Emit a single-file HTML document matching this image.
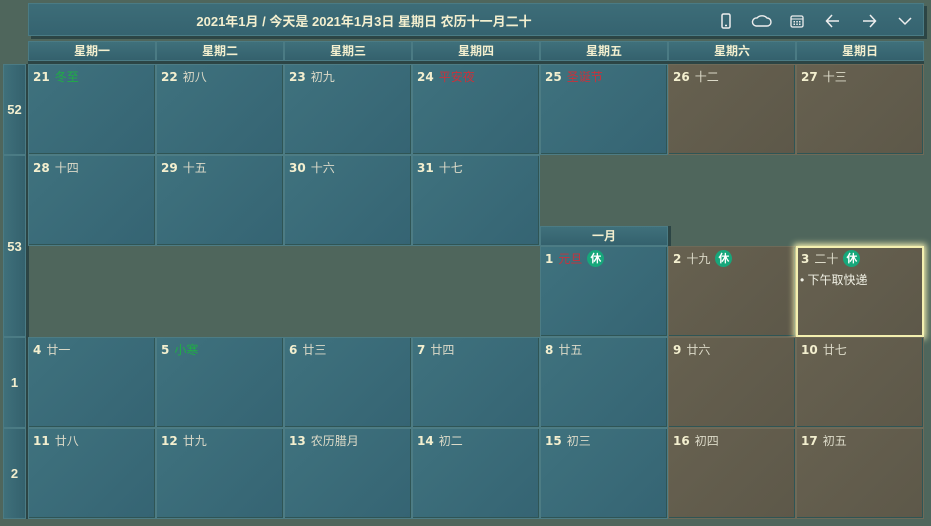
<!DOCTYPE html>
<html><head><meta charset="utf-8">
<style>
html,body{margin:0;padding:0;}
body{width:931px;height:526px;background:#4f665c;position:relative;overflow:hidden;font-family:"Liberation Sans","Noto Sans CJK SC",sans-serif;}
.abs{position:absolute;box-sizing:border-box;}
.hdr{left:28px;top:3px;width:896px;height:33px;background:linear-gradient(#3d6d78,#356370);border:1px solid #4a7b84;box-shadow:3px 3px 0 #2c4545;}
.title{position:absolute;left:0;width:670px;top:7px;text-align:center;color:#f3efcf;font-weight:bold;font-size:13px;}
.ico{position:absolute;top:8px;width:18px;height:18px;}
.dh{height:20px;top:41px;background:linear-gradient(#3f707b,#34616d);border:1px solid #4b7b84;color:#f3efcf;font-size:12px;font-weight:bold;text-align:center;line-height:18px;box-shadow:0 3px 0 #2c4545;}
.cell{background:linear-gradient(135deg,#3f727e,#356473);border:1px solid #4d7c84;box-shadow:inset -1px -1px 0 #2f5555;}
.we{background:linear-gradient(135deg,#676150,#5d5849);border-color:#6e6a58;}
.num{position:absolute;left:4px;top:3px;color:#f3efcf;font-weight:bold;font-size:12px;font-family:"DejaVu Sans","Noto Sans CJK SC",sans-serif;}
.lun{color:#dcdac8;font-weight:normal;font-size:12px;margin-left:5px;font-family:"Liberation Sans","Noto Sans CJK SC",sans-serif;}
.red{color:#c8323c;}.grn{color:#1fae45;}
.xiu{display:inline-block;width:17px;height:17px;border-radius:50%;background:#17a77b;color:#fff;font-size:11px;text-align:center;line-height:17px;margin-left:5px;vertical-align:1px;}
.wk{left:3px;width:23px;background:linear-gradient(90deg,#3f707b,#34616d);border:1px solid #4b7b84;color:#f3efcf;font-weight:bold;font-size:13px;display:flex;align-items:center;justify-content:center;box-shadow:3px 0 0 #2c4545;}
</style></head><body>
<div class="abs hdr">
  <div class="title">2021年1月 / 今天是 2021年1月3日 星期日 农历十一月二十</div>
  <svg class="ico" style="left:688px" viewBox="0 0 18 18"><rect x="5" y="2" width="8" height="14" rx="1.5" fill="none" stroke="#eee" stroke-width="1.5"/><line x1="8" y1="13.5" x2="10" y2="13.5" stroke="#eee" stroke-width="1.5"/></svg>
  <svg class="ico" style="left:722px;width:22px" viewBox="0 0 22 18"><path d="M5 14 H16 A4 4 0 0 0 16 6 A6 5 0 0 0 6 6 A4 4 0 0 0 5 14Z" fill="none" stroke="#eee" stroke-width="1.4"/></svg>
  <svg class="ico" style="left:759px" viewBox="0 0 18 18"><rect x="3" y="4" width="12" height="11" rx="1.5" fill="none" stroke="#eee" stroke-width="1.3"/><line x1="3" y1="7" x2="15" y2="7" stroke="#eee"/><g fill="#eee"><rect x="5.5" y="9" width="1.5" height="1.5"/><rect x="8.3" y="9" width="1.5" height="1.5"/><rect x="11" y="9" width="1.5" height="1.5"/><rect x="5.5" y="11.5" width="1.5" height="1.5"/><rect x="8.3" y="11.5" width="1.5" height="1.5"/><rect x="11" y="11.5" width="1.5" height="1.5"/></g></svg>
  <svg class="ico" style="left:795px" viewBox="0 0 18 18"><path d="M15 9H3M8 3L2.5 9L8 15" fill="none" stroke="#eee" stroke-width="1.5"/></svg>
  <svg class="ico" style="left:831px" viewBox="0 0 18 18"><path d="M3 9H15M10 3L15.5 9L10 15" fill="none" stroke="#eee" stroke-width="1.5"/></svg>
  <svg class="ico" style="left:867px" viewBox="0 0 18 18"><path d="M3 6L9 12L15 6" fill="none" stroke="#eee" stroke-width="1.5"/></svg>
</div>
<div class="abs" style="left:540px;top:226px;width:128px;height:20px;background:linear-gradient(#3f707b,#34616d);border:1px solid #4b7b84;color:#f3efcf;font-size:12px;font-weight:bold;text-align:center;line-height:18px;box-shadow:3px 0 0 #2c4545">一月</div>
<script>
const weekdays=['星期一','星期二','星期三','星期四','星期五','星期六','星期日'];
const colX=[28,156,284,412,540,668,796];
for(let i=0;i<7;i++){
  const d=document.createElement('div');
  d.className='abs dh';
  d.style.left=colX[i]+'px';d.style.width='128px';
  d.textContent=weekdays[i];
  
  
  document.body.appendChild(d);
}
const weeks=[['52',64,91],['53',155,182],['1',337,91],['2',428,91]];
weeks.forEach(w=>{
  const d=document.createElement('div');
  d.className='abs wk';
  d.style.top=w[1]+'px';d.style.height=w[2]+'px';
  d.textContent=w[0];
  
  
  document.body.appendChild(d);
});
const cells=[
[0,64,'21','冬至','grn',0],[1,64,'22','初八','',0],[2,64,'23','初九','',0],[3,64,'24','平安夜','red',0],[4,64,'25','圣诞节','red',0],[5,64,'26','十二','',0],[6,64,'27','十三','',0],
[0,155,'28','十四','',0],[1,155,'29','十五','',0],[2,155,'30','十六','',0],[3,155,'31','十七','',0],
[4,246,'1','元旦','red',1],[5,246,'2','十九','',1],[6,246,'3','二十','',1],
[0,337,'4','廿一','',0],[1,337,'5','小寒','grn',0],[2,337,'6','廿三','',0],[3,337,'7','廿四','',0],[4,337,'8','廿五','',0],[5,337,'9','廿六','',0],[6,337,'10','廿七','',0],
[0,428,'11','廿八','',0],[1,428,'12','廿九','',0],[2,428,'13','农历腊月','',0],[3,428,'14','初二','',0],[4,428,'15','初三','',0],[5,428,'16','初四','',0],[6,428,'17','初五','',0]
];
cells.forEach(c=>{
  const d=document.createElement('div');
  d.className='abs cell'+(c[0]>=5?' we':'');
  d.style.left=colX[c[0]]+'px';d.style.top=c[1]+'px';d.style.width='128px';d.style.height='91px';
  
  
  let h='<div class="num">'+c[2]+'<span class="lun '+c[4]+'">'+c[3]+'</span>'+(c[5]?'<span class="xiu">休</span>':'')+'</div>';
  if(c[2]==='3'&&c[1]===246){
    d.style.boxShadow='0 0 6px 2px #f4f0b0, inset 0 0 0 1px #f4f0b0';
    d.style.borderColor='#f4f0b0';
    h+='<div style="position:absolute;left:3px;top:24px;color:#f0f0e4;font-size:12px">• 下午取快递</div>';
  }
  d.innerHTML=h;
  document.body.appendChild(d);
});
</script>
</body></html>
